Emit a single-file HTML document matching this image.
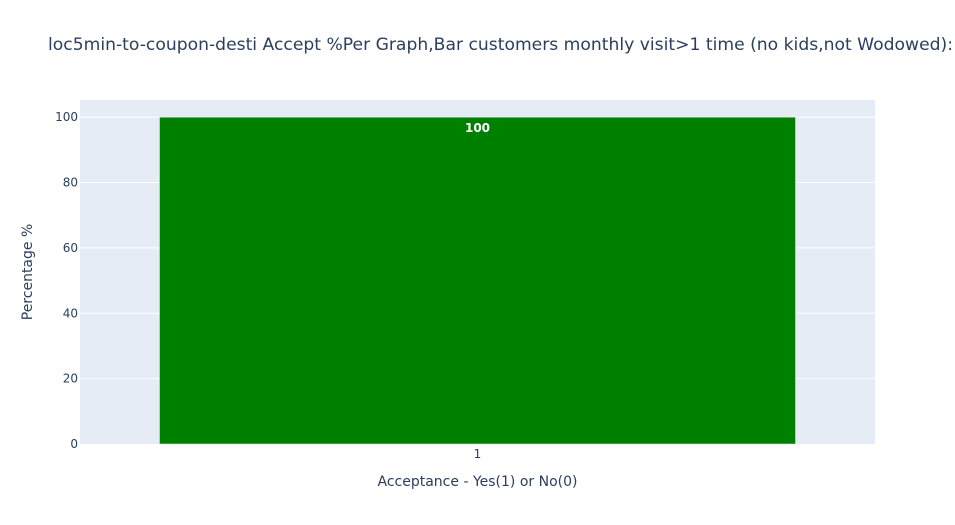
<!DOCTYPE html>
<html><head><meta charset="utf-8"><style>
body{margin:0;background:#fff;}
svg{display:block;font-family:"DejaVu Sans","Liberation Sans",sans-serif;}
</style></head><body>
<svg id="c" width="955" height="525">
<rect x="0" y="0" width="955" height="525" fill="#fff"/>
<rect x="80" y="100" width="795" height="344" fill="#e5ecf6"/>
<g id="grid"></g>
<g id="bars"></g>
<g id="yticks" font-size="12" fill="#2a3f5f"></g>
<g id="xticks" font-size="12" fill="#2a3f5f"></g>
<text x="48" y="50" font-size="17" fill="#2a3f5f" textLength="905" lengthAdjust="spacingAndGlyphs">loc5min-to-coupon-desti Accept %Per Graph,Bar customers monthly visit&gt;1 time (no kids,not Wodowed):</text>
<text x="477.5" y="486" font-size="14" fill="#2a3f5f" text-anchor="middle">Acceptance - Yes(1) or No(0)</text>
<text x="32" y="272" font-size="14" fill="#2a3f5f" text-anchor="middle" transform="rotate(-90 32 272)">Percentage %</text>
</svg>
<script>
const categories = ["1"];
const values = [100];
const yTickValues = [0,20,40,60,80,100];
const ns="http://www.w3.org/2000/svg";
const X0=80,X1=875,Y0=444,Y1=100,YMAX=105.26;
function y(v){return Y0-(v/YMAX)*(Y0-Y1);}
const band=(X1-X0)/categories.length;
function xc(i){return X0+band*(i+0.5);}
function mk(t,a,p){const e=document.createElementNS(ns,t);for(const k in a)e.setAttribute(k,a[k]);p.appendChild(e);return e;}
const grid=document.getElementById('grid'),yt=document.getElementById('yticks'),xt=document.getElementById('xticks'),bars=document.getElementById('bars');
yTickValues.forEach(v=>{
 if(v>0){const l=mk('line',{x1:X0,x2:X1,y1:y(v),y2:y(v),stroke:'#fff','stroke-width':1},grid);
 
 }
 const t=mk('text',{x:X0-2,y:y(v)+4,'text-anchor':'end'},yt);t.textContent=v;
 
 
});
categories.forEach((c,i)=>{
 const w=band*0.8;
 const r=mk('rect',{x:xc(i)-w/2,y:y(values[i]),width:w,height:Y0-y(values[i]),fill:'#008000',stroke:'#e5ecf6','stroke-width':0.5},bars);
 
 
 const lb=mk('text',{x:xc(i),y:y(values[i])+15,'text-anchor':'middle','font-size':12,'font-weight':'bold',fill:'#fff'},bars);lb.textContent=values[i];
 
 
 const t=mk('text',{x:xc(i),y:Y0+14,'text-anchor':'middle'},xt);t.textContent=c;
 
 
});
</script>
</body></html>
